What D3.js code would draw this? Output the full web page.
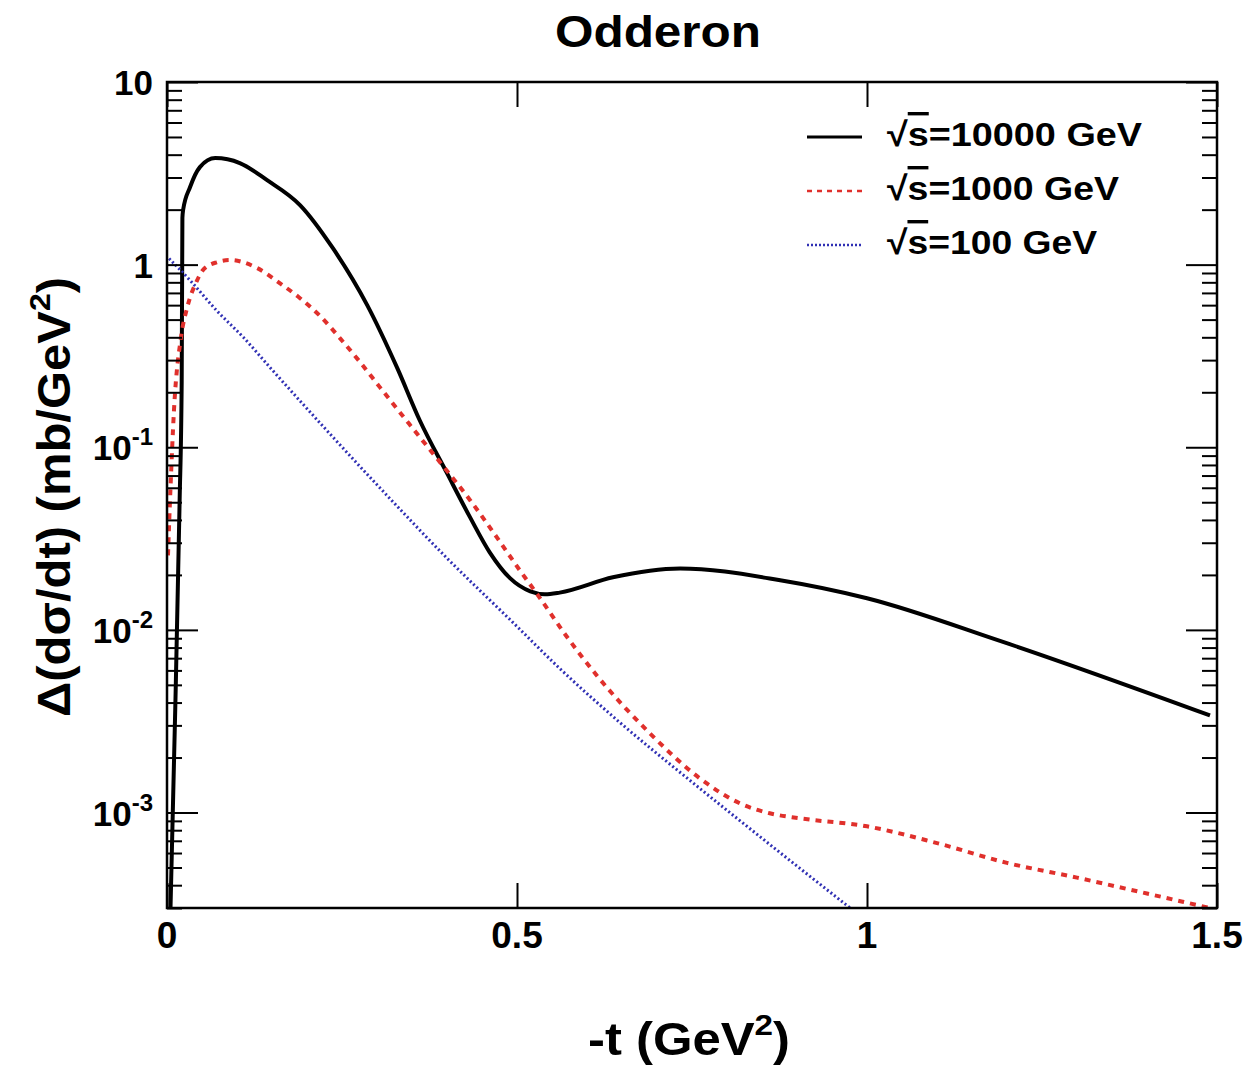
<!DOCTYPE html>
<html>
<head>
<meta charset="utf-8">
<script src="https://cdn.jsdelivr.net/npm/d3@7"></script>
<style>
  body { margin: 0; background: #fff; }
  svg text { font-family: "Liberation Sans", Arial, Helvetica, sans-serif; font-weight: bold; fill: #000; }
</style>
</head>
<body>
<div id="chart"></div>
<script>
// Curves: -t (GeV^2) and d(sigma)/dt difference (mb/GeV^2)
const t10000 = [0.005, 0.012, 0.018, 0.021, 0.022, 0.023, 0.033, 0.047, 0.069, 0.104, 0.143, 0.19, 0.237, 0.286, 0.329, 0.361, 0.4, 0.433, 0.461, 0.49, 0.519, 0.54, 0.561, 0.637, 0.733, 0.876, 1.0, 1.19, 1.49];
const v10000 = [0.0003, 0.004, 0.05, 0.23, 1.8, 1.99, 2.66, 3.42, 3.83, 3.6, 2.9, 2.12, 1.23, 0.60, 0.271, 0.1406, 0.0721, 0.0413, 0.0266, 0.0192, 0.01626, 0.01567, 0.016, 0.0194, 0.0217, 0.0187, 0.0149, 0.0087, 0.0034];

const t1000 = [0.0014, 0.005, 0.01, 0.02, 0.029, 0.043, 0.051, 0.071, 0.09, 0.129, 0.161, 0.19, 0.219, 0.247, 0.276, 0.304, 0.351, 0.39, 0.433, 0.471, 0.504, 0.529, 0.571, 0.614, 0.69, 0.761, 0.819, 0.861, 0.904, 1.0, 1.1, 1.2, 1.3, 1.4, 1.49];
const v1000 = [0.0256, 0.06, 0.16, 0.4, 0.585, 0.82, 0.93, 1.03, 1.06, 0.957, 0.792, 0.655, 0.522, 0.396, 0.292, 0.2134, 0.127, 0.0828, 0.0513, 0.0322, 0.0212, 0.01566, 0.0092, 0.00563, 0.00271, 0.00154, 0.00112, 0.00099, 0.00093, 0.00084, 0.00068, 0.00053, 0.00044, 0.00036, 0.0003];

const t100 = [0.003, 0.033, 0.071, 0.109, 0.147, 0.304, 0.4, 0.494, 0.561, 0.647, 0.747, 0.847, 0.976];
const v100 = [1.08, 0.82, 0.56, 0.40, 0.274, 0.060, 0.0247, 0.011, 0.00615, 0.00311, 0.0015, 0.000738, 0.0003];

const seriesNames = ["10000", "1000", "100"];
const xTicks = [0, 0.5, 1, 1.5];
const yMajor = [1e-3, 1e-2, 1e-1, 1, 10];
const yMinorMult = [2, 3, 4, 5, 6, 7, 8, 9];

const W = 1247, H = 1068;
const margin = { left: 167, right: 30, top: 82, bottom: 160 };

const svg = d3.select("#chart").append("svg")
  .attr("width", W)
  .attr("height", H);

const x = d3.scaleLinear().domain([0, 1.5]).range([margin.left, W - margin.right]);
const y = d3.scaleLog().domain([3e-4, 10]).range([H - margin.bottom, margin.top]);

const x0 = x.range()[0], x1 = x.range()[1];
const y0 = y.range()[0], y1 = y.range()[1];

// minor ticks for every decade inside the domain
const yMinor = [];
[1e-4, 1e-3, 1e-2, 1e-1, 1].forEach(function (d) {
  yMinorMult.forEach(function (m) {
    const v = d * m;
    if (v >= 3e-4 && v <= 10) yMinor.push(v);
  });
});

// clip
svg.append("clipPath").attr("id", "clip")
  .append("rect")
  .attr("x", x0).attr("y", y1)
  .attr("width", x1 - x0).attr("height", y0 - y1);

// curves
const series = [
  { t: t10000, v: v10000, color: "#000", width: 4, dash: null },
  { t: t1000, v: v1000, color: "#e0302c", width: 4, dash: "6,6" },
  { t: t100, v: v100, color: "#3030b4", width: 3, dash: "2,2.5" }
];

const line = d3.line()
  .x(function (d) { return x(d[0]); })
  .y(function (d) { return y(d[1]); })
  .curve(d3.curveMonotoneX);

svg.append("g").attr("clip-path", "url(#clip)")
  .selectAll("path")
  .data(series)
  .enter()
  .append("path")
  .attr("d", function (s) { return line(s.t.map(function (t, i) { return [t, s.v[i]]; })); })
  .attr("fill", "none")
  .attr("stroke", function (s) { return s.color; })
  .attr("stroke-width", function (s) { return s.width; })
  .attr("stroke-dasharray", function (s) { return s.dash; })
  .attr("stroke-linejoin", "round");

// axes, ticks inside on all four sides
function tickAxis(axis, transform, values, size) {
  const g = svg.append("g")
    .attr("transform", transform)
    .call(axis.tickValues(values).tickSize(size).tickFormat(""));
  g.select(".domain").remove();
  g.selectAll(".tick line").attr("stroke", "#000").attr("stroke-width", 2);
  return g;
}
tickAxis(d3.axisBottom(x), "translate(0," + y0 + ")", xTicks, -25);
tickAxis(d3.axisTop(x), "translate(0," + y1 + ")", xTicks, -25);
tickAxis(d3.axisLeft(y), "translate(" + x0 + ",0)", yMajor, -31);
tickAxis(d3.axisLeft(y), "translate(" + x0 + ",0)", yMinor, -15);
tickAxis(d3.axisRight(y), "translate(" + x1 + ",0)", yMajor, -31);
tickAxis(d3.axisRight(y), "translate(" + x1 + ",0)", yMinor, -15);

// frame
svg.append("rect")
  .attr("x", x0).attr("y", y1)
  .attr("width", x1 - x0).attr("height", y0 - y1)
  .attr("fill", "none")
  .attr("stroke", "#000")
  .attr("stroke-width", 2.5);

// x tick labels
svg.append("g").selectAll("text")
  .data(xTicks)
  .enter()
  .append("text")
  .attr("x", function (d) { return x(d); })
  .attr("y", y0 + 40)
  .attr("text-anchor", "middle")
  .attr("font-size", 37)
  .text(function (d) { return d === 0 ? "0" : String(d); });

// y tick labels
const yLab = svg.append("g").selectAll("text")
  .data(yMajor)
  .enter()
  .append("text")
  .attr("x", 153)
  .attr("y", function (d) { return y(d) + 13; })
  .attr("text-anchor", "end")
  .attr("font-size", 35);
yLab.each(function (d) {
  const el = d3.select(this);
  const e = Math.round(Math.log10(d));
  if (e === 0) { el.text("1"); return; }
  if (e === 1) { el.text("10"); return; }
  el.append("tspan").text("10");
  el.append("tspan").attr("dy", -15).attr("font-size", 24).text(String(e));
});

// title
svg.append("text")
  .attr("x", 658)
  .attr("y", 47)
  .attr("text-anchor", "middle")
  .attr("font-size", 44)
  .attr("textLength", 206)
  .attr("lengthAdjust", "spacingAndGlyphs")
  .text("Odderon");

// x title
const xt = svg.append("text")
  .attr("x", 588)
  .attr("y", 1055)
  .attr("font-size", 46)
  .attr("textLength", 202)
  .attr("lengthAdjust", "spacingAndGlyphs");
xt.append("tspan").text("-t (GeV");
xt.append("tspan").attr("dy", -20).attr("font-size", 30).text("2");
xt.append("tspan").attr("dy", 20).text(")");

// y title
const yt = svg.append("text")
  .attr("transform", "translate(70,717) rotate(-90)")
  .attr("font-size", 46)
  .attr("textLength", 440)
  .attr("lengthAdjust", "spacingAndGlyphs");
yt.append("tspan").text("\u0394(d\u03c3/dt) (mb/GeV");
yt.append("tspan").attr("dy", -20).attr("font-size", 30).text("2");
yt.append("tspan").attr("dy", 20).text(")");

// legend
const legendWidths = [255, 232, 210];
const legend = svg.append("g").selectAll("g")
  .data(series)
  .enter()
  .append("g")
  .attr("transform", function (d, i) { return "translate(0," + (137 + i * 54) + ")"; });

legend.append("line")
  .attr("x1", 807).attr("x2", 862)
  .attr("y1", 0).attr("y2", 0)
  .attr("stroke", function (s) { return s.color; })
  .attr("stroke-width", function (s, i) { return i === 0 ? 3 : 2.5; })
  .attr("stroke-dasharray", function (s, i) { return i === 1 ? "5,5" : (i === 2 ? "2,2" : null); });

const lt = legend.append("text")
  .attr("x", 887)
  .attr("y", 9)
  .attr("font-size", 34)
  .attr("textLength", function (d, i) { return legendWidths[i]; })
  .attr("lengthAdjust", "spacingAndGlyphs");
lt.append("tspan").text("\u221a");
lt.append("tspan").style("text-decoration", "overline").text("s");
lt.append("tspan").text(function (d, i) { return "=" + seriesNames[i] + " GeV"; });
</script>
</body>
</html>
